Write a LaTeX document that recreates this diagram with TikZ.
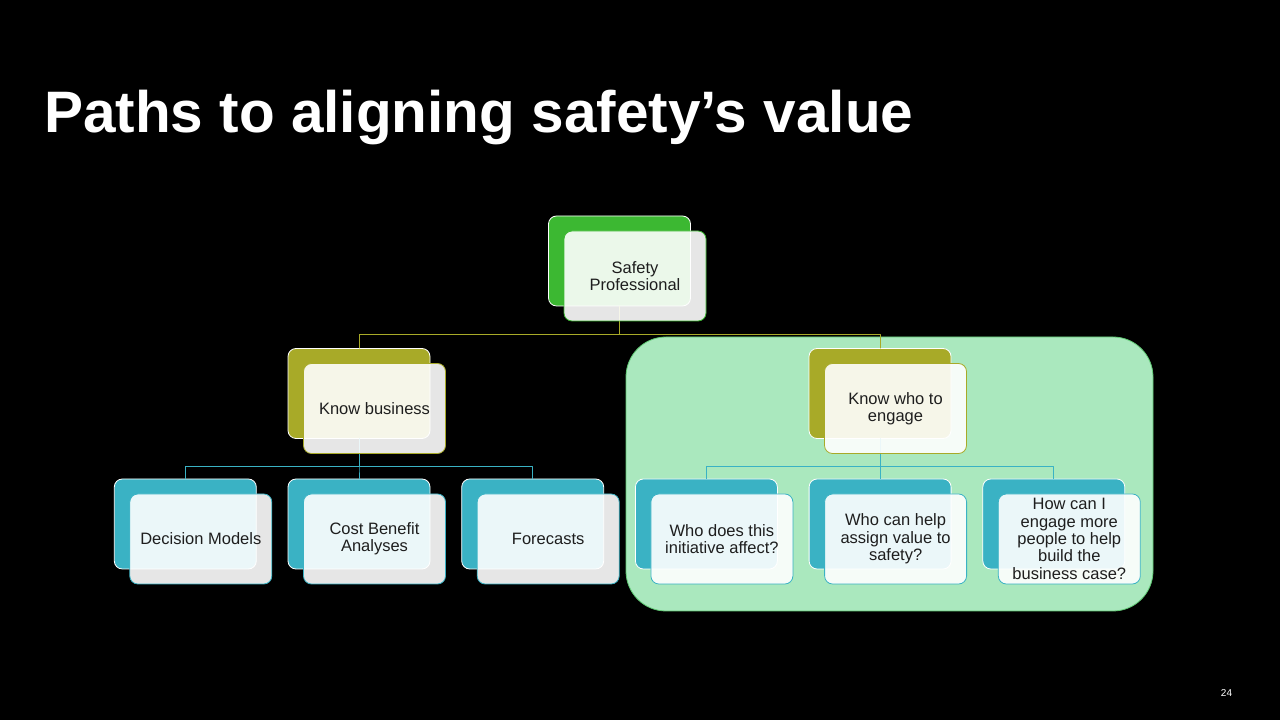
\documentclass[tikz,border=0pt]{standalone}
\usepackage{fontspec}
\setmainfont{Liberation Sans}
\usetikzlibrary{positioning}

\definecolor{vertfonce}{RGB}{60,184,50}
\definecolor{olive}{RGB}{168,170,40}
\definecolor{sarcelle}{RGB}{58,178,196}
\definecolor{vertzone}{RGB}{170,232,190}
\definecolor{bordzone}{RGB}{95,200,115}
\definecolor{texte}{RGB}{30,30,30}

\begin{document}
\begin{tikzpicture}[line cap=round,line join=round,x=1pt,y=1pt,
	arriere/.style={rectangle,rounded corners=8pt,minimum width=142pt,minimum height=90pt,
		inner sep=0pt,draw=white,line width=0.8pt,fill=#1},
	devant/.style={rectangle,rounded corners=8pt,minimum width=142pt,minimum height=90pt,
		inner sep=0pt,draw=#1,line width=0.8pt,fill=white,fill opacity=0.9,text opacity=1,
		xshift=15.5pt,yshift=-15pt,align=center,text=texte,
		font=\fontsize{16.5}{17.3}\selectfont},
	lien/.style={draw=#1,line width=0.8pt}]
		\fill[black] (0,0) rectangle (1280,720);
		\useasboundingbox (0,0) rectangle (1280,720);
		%titre
		\node[anchor=base west,inner sep=0pt,text=white,font=\fontsize{58.5}{60}\selectfont\bfseries] (titre) at (44,587) {Paths to aligning safety’s value};
		\node[inner sep=0pt,text=white,font=\fontsize{10}{12}\selectfont] (page) at (1226.5,27) {24};
		%zone verte
		\draw[draw=bordzone,fill=vertzone,line width=0.8pt,rounded corners=40pt] (626,109) rectangle (1153,383);
		%Noeud 1
		\node[arriere=vertfonce] (sp) at (619.5,459) {};
		%Noeud 2
		\node[arriere=olive] (kb) at (359,326.5) {};
		\node[arriere=olive] (kw) at (880,326.5) {};
		%Noeud 3
		\node[arriere=sarcelle] (dm) at (185.3,196) {};
		\node[arriere=sarcelle] (cb) at (359,196) {};
		\node[arriere=sarcelle] (fc) at (532.7,196) {};
		\node[arriere=sarcelle] (wd) at (706.4,196) {};
		\node[arriere=sarcelle] (wc) at (880.1,196) {};
		\node[arriere=sarcelle] (hc) at (1053.8,196) {};
		%liens
		\draw[lien=olive] (sp.south) -- ++(0,-28) -| (kb.north);
		\draw[lien=olive] (sp.south) -- ++(0,-28) -| (kw.north);
		\draw[lien=sarcelle] (kb.south) -- ++(0,-28) -| (dm.north);
		\draw[lien=sarcelle] (kb.south) -- ++(0,-28) -| (cb.north);
		\draw[lien=sarcelle] (kb.south) -- ++(0,-28) -| (fc.north);
		\draw[lien=sarcelle] (kw.south) -- ++(0,-28) -| (wd.north);
		\draw[lien=sarcelle] (kw.south) -- ++(0,-28) -| (wc.north);
		\draw[lien=sarcelle] (kw.south) -- ++(0,-28) -| (hc.north);
		%boites de devant
		\node[devant=vertfonce] (spf) at (sp) {Safety\\Professional};
		\node[devant=olive] (kbf) at (kb) {Know business};
		\node[devant=olive] (kwf) at (kw) {Know who to\\engage};
		\node[devant=sarcelle] (dmf) at (dm) {Decision Models};
		\node[devant=sarcelle] (cbf) at (cb) {Cost Benefit\\Analyses};
		\node[devant=sarcelle] (fcf) at (fc) {Forecasts};
		\node[devant=sarcelle] (wdf) at (wd) {Who does this\\initiative affect?};
		\node[devant=sarcelle] (wcf) at (wc) {Who can help\\assign value to\\safety?};
		\node[devant=sarcelle] (hcf) at (hc) {How can I\\engage more\\people to help\\build the\\business case?};
\end{tikzpicture}
\end{document}
